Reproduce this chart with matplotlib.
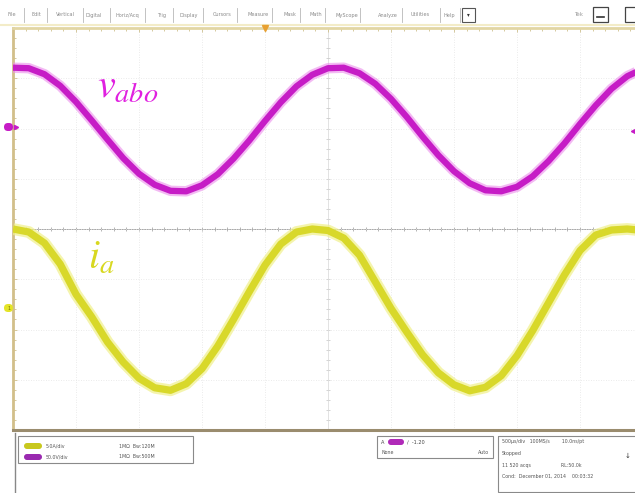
import matplotlib
matplotlib.use("Agg")
import matplotlib.pyplot as plt
from matplotlib.patches import Rectangle, FancyBboxPatch

plt.rcParams['mathtext.fontset'] = 'stix'

# time axis in screen divisions (0.25 div steps), screen is cut at 9.87 div
t_div = [0.0, 0.25, 0.5, 0.75, 1.0, 1.25, 1.5, 1.75, 2.0, 2.25,
         2.5, 2.75, 3.0, 3.25, 3.5, 3.75, 4.0, 4.25, 4.5, 4.75,
         5.0, 5.25, 5.5, 5.75, 6.0, 6.25, 6.5, 6.75, 7.0, 7.25,
         7.5, 7.75, 8.0, 8.25, 8.5, 8.75, 9.0, 9.25, 9.5, 9.75, 10.0]

# v_abo trace (magenta), in divisions from screen centre
v_abo = [3.21, 3.20, 3.08, 2.85, 2.53, 2.16, 1.78, 1.41, 1.10, 0.88,
         0.76, 0.75, 0.87, 1.09, 1.40, 1.76, 2.15, 2.52, 2.84, 3.07,
         3.20, 3.21, 3.10, 2.89, 2.59, 2.23, 1.84, 1.47, 1.15, 0.91,
         0.77, 0.75, 0.84, 1.05, 1.35, 1.70, 2.09, 2.46, 2.79, 3.04, 3.19]

# i_a trace (yellow)
i_a = [0.00, -0.06, -0.28, -0.70, -1.30, -1.75, -2.25, -2.65, -2.97, -3.16,
       -3.21, -3.08, -2.78, -2.33, -1.80, -1.25, -0.72, -0.30, -0.06, 0.00,
       -0.03, -0.18, -0.52, -1.05, -1.58, -2.05, -2.50, -2.86, -3.10, -3.22,
       -3.15, -2.92, -2.52, -2.02, -1.47, -0.92, -0.43, -0.12, -0.02, 0.00, -0.03]

menu_items = ["File", "Edit", "Vertical", "Digital", "Horiz/Acq", "Trig", "Display",
              "Cursors", "Measure", "Mask", "Math", "MyScope", "Analyze",
              "Utilities", "Help"]
menu_x = [8, 31, 56, 86, 116, 157, 179, 213, 248, 284, 309, 336, 378, 411, 444]

ch_rows = [("5.0A/div", "1M\u03a9  B\u1d21:120M"), ("50.0V/div", "1M\u03a9  B\u1d21:500M")]
acq_rows = ["500\u00b5s/div   100MS/s        10.0ns/pt", "Stopped",
            "11 520 acqs                    RL:50.0k",
            "Cond:  December 01, 2014    00:03:32"]

W, H = 635, 493
fig = plt.figure(figsize=(W / 100, H / 100), dpi=100)
fig.patch.set_facecolor("white")

# main scope screen
ax = fig.add_axes([13 / W, (H - 430) / H, (W - 13) / W, 402 / H])
ax.set_xlim(0, (W - 13) / 63)
ax.set_ylim(-4, 4)
ax.set_xticks(range(0, 10))
ax.set_yticks(range(-4, 5))
ax.set_xticks([k * 0.2 for k in range(50)], minor=True)
ax.set_yticks([k * 0.2 - 4 for k in range(41)], minor=True)
ax.grid(True, which="major", color="#e4e4e4", lw=0.6, ls=(0, (1, 2)))
ax.tick_params(which="both", direction="in", colors="#cfc08e", top=True, bottom=False,
               right=False, labelleft=False, labelbottom=False, length=3, width=0.6)
ax.tick_params(which="minor", length=2)
ax.spines["right"].set_visible(False)
ax.spines["top"].set_color("#e2d6a4")
ax.spines["top"].set_linewidth(2)
ax.spines["left"].set_color("#d2bf8a")
ax.spines["left"].set_linewidth(2)
ax.spines["bottom"].set_color("#9a8c6e")
ax.spines["bottom"].set_linewidth(2.2)

# centre cross with tick marks
ax.axhline(0, color="#a8a8a8", lw=0.7, zorder=1)
ax.axvline(5, color="#dddddd", lw=0.6, zorder=1)
mt = [k * 0.2 for k in range(50)]
ax.plot(mt, [0] * len(mt), ls="none", marker="|", ms=3, color="#a8a8a8", mew=0.6, zorder=1)
mv = [k * 0.2 - 4 for k in range(41)]
ax.plot([5] * len(mv), mv, ls="none", marker="_", ms=3, color="#cccccc", mew=0.6, zorder=1)

# traces
kw = dict(solid_capstyle="butt", solid_joinstyle="round")
ax.plot(t_div, v_abo, color="#ec8cec", lw=7.5, alpha=0.6, zorder=3, **kw)
ax.plot(t_div, v_abo, color="#c61cc6", lw=4.5, zorder=4, **kw)
ax.plot(t_div, i_a, color="#f0f08a", lw=8.5, alpha=0.7, zorder=3, **kw)
ax.plot(t_div, i_a, color="#d8d82a", lw=5.2, zorder=4, **kw)

ax.text(1.34, 2.62, r"$v_{abo}$", color="#e020e0", fontsize=29, zorder=5)
ax.text(1.19, -0.78, r"$i_a$", color="#d8d820", fontsize=29, zorder=5)

# overlay for menu, markers and status panel (pixel coords)
ov = fig.add_axes([0, 0, 1, 1], facecolor="none")
ov.set_xlim(0, W)
ov.set_ylim(H, 0)
ov.axis("off")

for name, x in zip(menu_items, menu_x):
    ov.text(x, 15, name, fontsize=3.6, color="#8a8a8a", va="center")
    ov.plot([x + len(name) * 2.7 + 5] * 2, [8, 22], color="#b8b8b8", lw=0.6)
ov.add_patch(Rectangle((462, 8), 13, 14, fill=False, ec="#555555", lw=0.8))
ov.text(468.5, 15, "\u25be", fontsize=4, ha="center", va="center", color="#333333")
ov.text(574, 15, "Tek", fontsize=4, color="#9a9a9a", va="center")
ov.add_patch(Rectangle((593, 7), 15, 15, fill=False, ec="#444444", lw=0.9))
ov.plot([597, 604], [17, 17], color="#333333", lw=1.2)
ov.add_patch(Rectangle((625, 7), 15, 15, fill=False, ec="#444444", lw=0.9))
ov.plot([0, W], [25, 25], color="#f3ecc8", lw=1.5)

# trigger marker on the top frame
ov.plot([265], [28], marker="v", color="#e8a030", ms=4, ls="none")

# channel ground markers
ov.add_patch(FancyBboxPatch((4, 123), 9, 8, boxstyle="round,pad=0,rounding_size=4",
                            fc="#c61cc6", ec="none"))
ov.plot([16], [127], marker=">", color="#c61cc6", ms=3, ls="none")
ov.plot([633], [131], marker="<", color="#c61cc6", ms=3, ls="none")
ov.add_patch(FancyBboxPatch((4, 304), 9, 8, boxstyle="round,pad=0,rounding_size=4",
                            fc="#e4e428", ec="none"))
ov.text(9, 308, "1", fontsize=3.5, color="#777700", ha="center", va="center")

# status panel
ov.plot([15, 15], [433, H], color="#888888", lw=1)
ov.add_patch(Rectangle((18, 436), 175, 27, fill=False, ec="#8a8a8a", lw=0.8))
for row, (lab, extra), col in zip([0, 1], ch_rows, ["#c8c81e", "#9a2ab0"]):
    y = 446 + row * 11
    ov.add_patch(FancyBboxPatch((24, y - 3), 18, 6, boxstyle="round,pad=0,rounding_size=3",
                                fc=col, ec="none"))
    ov.text(46, y, lab, fontsize=3.4, color="#555555", va="center")
    ov.text(119, y, extra, fontsize=3.4, color="#555555", va="center")

ov.add_patch(Rectangle((377, 436), 116, 22, fill=False, ec="#8a8a8a", lw=0.8))
ov.text(381, 442, "A", fontsize=3.6, color="#444444", va="center")
ov.add_patch(FancyBboxPatch((388, 439), 16, 6, boxstyle="round,pad=0,rounding_size=3",
                            fc="#b02ab8", ec="none"))
ov.text(407, 442, "\u2215  -1.20", fontsize=3.6, color="#444444", va="center")
ov.text(381, 453, "None", fontsize=3.4, color="#555555", va="center")
ov.text(478, 453, "Auto", fontsize=3.4, color="#555555", va="center")

ov.add_patch(Rectangle((498, 436), 140, 56, fill=False, ec="#8a8a8a", lw=0.8))
for k, line in enumerate(acq_rows):
    ov.text(502, 442 + k * 11.5, line, fontsize=3.4, color="#555555", va="center")
ov.text(628, 456, "\u2193", fontsize=5, color="#333333", ha="center", va="center")

fig.savefig("out.png", dpi=100)
